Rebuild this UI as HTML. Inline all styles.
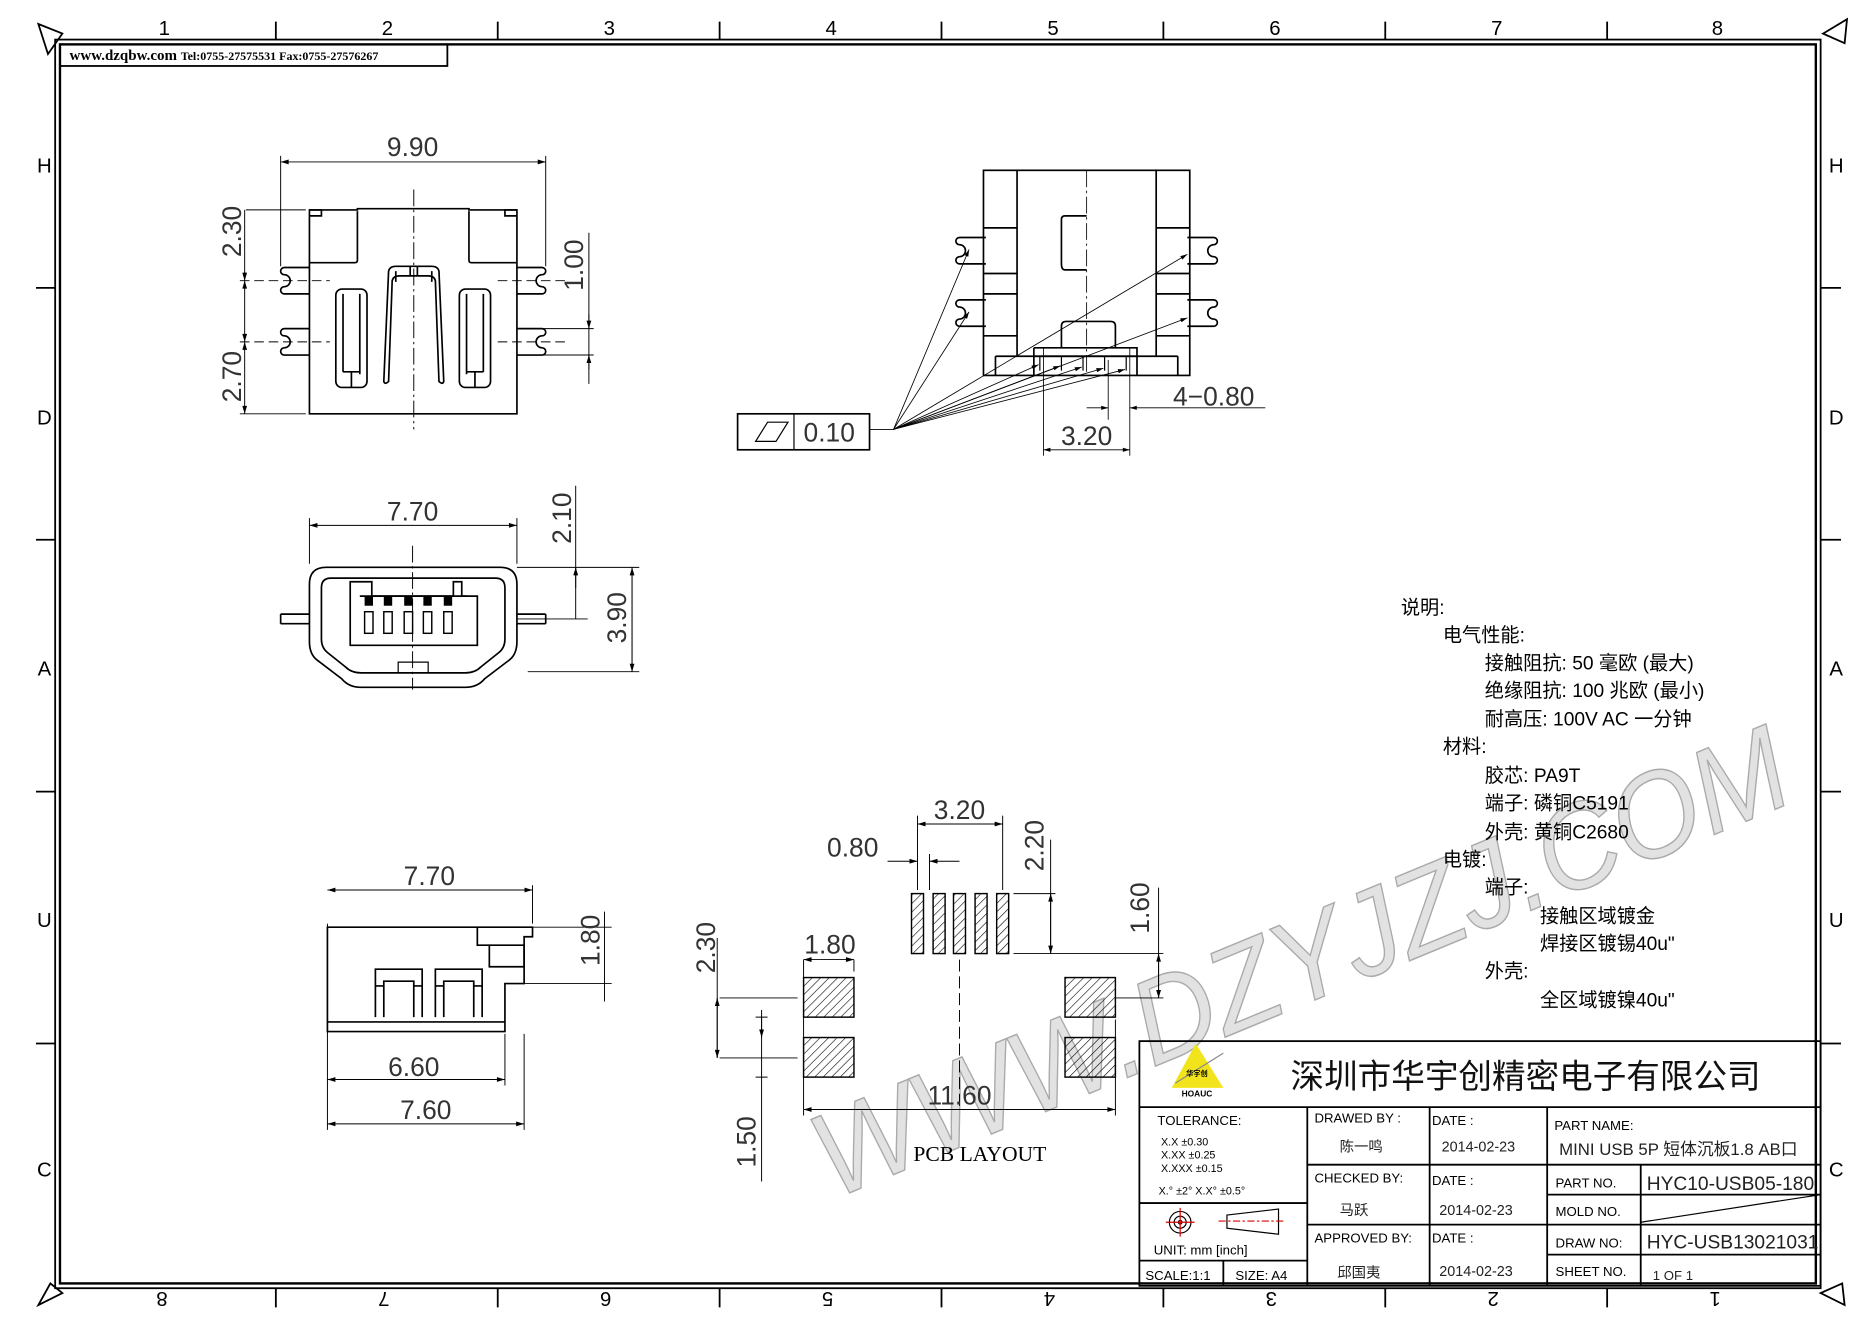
<!DOCTYPE html>
<html><head><meta charset="utf-8"><style>
html,body{margin:0;padding:0;background:#fff;}
svg{display:block;}
text{font-family:"Liberation Sans","Noto Sans CJK SC",sans-serif;}
.s{font-family:"Liberation Serif","Noto Serif CJK SC","Noto Sans CJK SC",serif;}
.d{font-family:"DejaVu Sans","Liberation Sans",sans-serif;font-weight:200;fill:#333;}
</style></head><body>
<svg width="1871" height="1323" viewBox="0 0 1560 1103" preserveAspectRatio="none" xmlns="http://www.w3.org/2000/svg">
<defs>
<pattern id="h" width="5" height="5" patternUnits="userSpaceOnUse" patternTransform="rotate(45)"><line x1="0" y1="0" x2="0" y2="5" stroke="#000" stroke-width="1"/></pattern>
<marker id="a" viewBox="0 0 10 6" refX="10" refY="3" markerWidth="9" markerHeight="5" orient="auto-start-reverse"><path d="M0,0L10,3L0,6z" fill="#000"/></marker>
</defs>
<rect width="1560" height="1103" fill="#fff"/>
<!-- watermark -->
<text x="0" y="0" transform="translate(695,1000) rotate(-22.5)" font-size="100" textLength="870" lengthAdjust="spacingAndGlyphs" fill="#d6d6d6" fill-opacity="0.7" stroke="#aaa" stroke-width="1.2" font-style="italic">WWW.DZYJZJ.COM</text>
<g fill="none" stroke="#000">
<rect x="46" y="33" width="1472" height="1041" stroke-width="1.5"/>
<rect x="50" y="37" width="1464" height="1033" stroke-width="2"/>
<rect x="50" y="37" width="323" height="18" stroke-width="1.5"/>
<g stroke-width="1.5">
<path d="M230,18V33M415,18V33M600,18V33M785,18V33M970,18V33M1155,18V33M1340,18V33"/>
<path d="M230,1074V1090M415,1074V1090M600,1074V1090M785,1074V1090M970,1074V1090M1155,1074V1090M1340,1074V1090"/>
<path d="M30,240H46M30,450H46M30,660H46M30,870H46"/>
<path d="M1518,240H1535M1518,450H1535M1518,660H1535M1518,870H1535"/>
</g>
<path d="M32,20L52,28L40,45Z" stroke-width="1.5"/>
<path d="M1520,28L1540,16L1538,36Z" stroke-width="1.5"/>
<path d="M32,1088L52,1078L42,1070Z" stroke-width="1.5"/>
<path d="M1518,1078L1536,1070L1538,1088Z" stroke-width="1.5"/>
</g>
<g font-size="17" fill="#000" text-anchor="middle">
<text x="137" y="29">1</text><text x="323" y="29">2</text><text x="508" y="29">3</text><text x="693" y="29">4</text><text x="878" y="29">5</text><text x="1063" y="29">6</text><text x="1248" y="29">7</text><text x="1432" y="29">8</text>
<text x="37" y="144">H</text><text x="37" y="354">D</text><text x="37" y="563">A</text><text x="37" y="773">U</text><text x="37" y="981">C</text>
<text x="1531" y="144">H</text><text x="1531" y="354">D</text><text x="1531" y="563">A</text><text x="1531" y="773">U</text><text x="1531" y="981">C</text>
<g transform="rotate(180 135 1083)"><text x="135" y="1089">8</text></g>
<g transform="rotate(180 320 1083)"><text x="320" y="1089">7</text></g>
<g transform="rotate(180 505 1083)"><text x="505" y="1089">6</text></g>
<g transform="rotate(180 690 1083)"><text x="690" y="1089">5</text></g>
<g transform="rotate(180 875 1083)"><text x="875" y="1089">4</text></g>
<g transform="rotate(180 1060 1083)"><text x="1060" y="1089">3</text></g>
<g transform="rotate(180 1245 1083)"><text x="1245" y="1089">2</text></g>
<g transform="rotate(180 1430 1083)"><text x="1430" y="1089">1</text></g>
</g>
<text x="58" y="50" class="s" font-size="12.5" font-weight="bold">www.dzqbw.com <tspan font-size="10">Tel:0755-27575531  Fax:0755-27576267</tspan></text>

<!-- VIEW 1 top -->
<g fill="none" stroke="#000" stroke-width="1.4">
<path d="M258,175H298V174H391V175H431V345H258Z"/>
<path d="M258,219H296Q298,219 298,217V176M431,219H393Q391,219 391,217V176"/>
<path d="M258,175h10v5h-10M431,175h-10v5h10"/>
<path d="M258,223H237a3,3 0 0 0 0,6a5,5 0 0 1 0,10a3,3 0 0 0 0,6H258M258,274H237a3,3 0 0 0 0,6a5,5 0 0 1 0,10a3,3 0 0 0 0,6H258"/>
<path d="M431,223H452a3,3 0 0 1 0,6a5,5 0 0 0 0,10a3,3 0 0 1 0,6H431M431,274H452a3,3 0 0 1 0,6a5,5 0 0 0 0,10a3,3 0 0 1 0,6H431"/>
<rect x="280" y="241" width="26" height="82" rx="5"/>
<path d="M286,310V245M300,245V312M286,310H300M293,310V323"/>
<rect x="383" y="241" width="26" height="82" rx="5"/>
<path d="M403,310V245M389,245V312M403,310H389M396,310V323"/>
<path d="M320,318L324,226Q325,222 330,222H360Q365,222 366,226L370,318Q369,321 366,318L363,234Q362,230 357,230H333Q328,230 327,234L324,318Q321,321 320,318Z"/>
<path d="M330,226V235M360,226V235M342,222V230M348,222V230"/>
</g>
<g stroke="#000" stroke-width="0.8" fill="none">
<path d="M345,158V358" stroke-dasharray="14,3,2,3"/>
<path d="M200,234H275M415,234H475M200,285H275M415,285H475" stroke-dasharray="8,4"/>
<path d="M234,222V130M455,222V130M255,175H205M200,345H255M440,274H495M440,296H495M491,194V320"/>
<path d="M234,135H455" marker-start="url(#a)" marker-end="url(#a)"/>
<path d="M204,175V234" marker-end="url(#a)"/>
<path d="M204,234V285" marker-start="url(#a)" marker-end="url(#a)"/>
<path d="M204,285V345" marker-start="url(#a)" marker-end="url(#a)"/>
<path d="M491,262V274" marker-end="url(#a)"/><path d="M491,308V296" marker-end="url(#a)"/>
</g>
<g class="d" font-size="22">
<text x="344" y="130" text-anchor="middle">9.90</text>
<text transform="translate(201,193) rotate(-90)" text-anchor="middle">2.30</text>
<text transform="translate(201,314) rotate(-90)" text-anchor="middle">2.70</text>
<text transform="translate(486,221) rotate(-90)" text-anchor="middle">1.00</text>
</g>

<!-- VIEW 2 side top-right -->
<g fill="none" stroke="#000" stroke-width="1.4">
<rect x="820" y="142" width="172" height="171"/>
<path d="M848,142V297M964,142V297M820,190H848M820,228H848M820,245H848M820,280H848M964,190H992M964,228H992M964,245H992M964,280H992"/>
<path d="M830,297H982M830,297V313M982,297V313"/>
<path d="M906,180H888Q885,180 885,183V220Q885,225 888,225H906"/>
<path d="M885,290V272Q885,268 889,268H926Q930,268 930,272V290"/>
<path d="M862,290H948V313M862,290V313M862,297H948"/>
<path d="M822,198H800a3,3 0 0 0 0,6a5,5 0 0 1 0,10a3,3 0 0 0 0,6H822M822,250H800a3,3 0 0 0 0,6a5,5 0 0 1 0,10a3,3 0 0 0 0,6H822"/>
<path d="M990,198H1012a3,3 0 0 1 0,6a5,5 0 0 0 0,10a3,3 0 0 1 0,6H990M990,250H1012a3,3 0 0 1 0,6a5,5 0 0 0 0,10a3,3 0 0 1 0,6H990"/>
<path d="M867,297v12M885,297v12M903,297v12M921,297v12M939,297v12" stroke-width="1"/>
<rect x="615" y="345" width="110" height="30"/>
<path d="M662,345V375M630,368L640,352H657L647,368Z" stroke-width="1"/>
</g>
<g class="d" font-size="22"><text x="670" y="368">0.10</text><text x="1012" y="338" text-anchor="middle">4−0.80</text><text x="906" y="371" text-anchor="middle">3.20</text></g>
<g stroke="#000" stroke-width="0.7" fill="none">
<path d="M906,142V310" stroke-dasharray="14,3,2,3"/>
<path d="M725,358H745"/>
<g marker-end="url(#a)">
<path d="M745,358L808,208"/><path d="M745,358L808,260"/><path d="M745,358L990,212"/><path d="M745,358L990,265"/>
<path d="M745,358L866,304"/><path d="M745,358L884,305"/><path d="M745,358L902,306"/><path d="M745,358L920,307"/><path d="M745,358L938,308"/>
</g>
<path d="M870,290V380M942,290V380M924,300V350"/>
<path d="M906,340H924" marker-end="url(#a)"/><path d="M1055,340H942" marker-end="url(#a)"/>
<path d="M870,375H942" marker-start="url(#a)" marker-end="url(#a)"/>
</g>

<!-- VIEW 3 front -->
<g fill="none" stroke="#000" stroke-width="1.4">
<path d="M272,473H417Q431,473 431,487V535Q431,545 425,550L404,566Q398,573 388,573H301Q291,573 285,566L264,550Q258,545 258,535V487Q258,473 272,473Z"/>
<path d="M276,482H413Q421,482 421,490V533Q421,540 416,544L401,556Q396,561 388,561H301Q293,561 288,556L273,544Q268,540 268,533V490Q268,482 276,482Z"/>
<path d="M332,561V552H357V561" stroke-width="1"/>
<path d="M234,512H258M234,520H258M234,512V520M431,512H455M431,520H455M455,512V520"/>
<path d="M292,497V538H398V497H385V485H378V497H310V485H292Z"/>
<path d="M300,497H389"/>
</g>
<g fill="#000">
<rect x="304" y="497" width="7" height="8"/><rect x="320" y="497" width="7" height="8"/><rect x="337" y="497" width="7" height="8"/><rect x="353" y="497" width="7" height="8"/><rect x="370" y="497" width="7" height="8"/>
</g>
<g fill="none" stroke="#000" stroke-width="1.2">
<rect x="304" y="510" width="7" height="18"/><rect x="320" y="510" width="7" height="18"/><rect x="337" y="510" width="7" height="18"/><rect x="353" y="510" width="7" height="18"/><rect x="370" y="510" width="7" height="18"/>
</g>
<g stroke="#000" stroke-width="0.8" fill="none">
<path d="M344,455V575" stroke-dasharray="14,3,2,3"/>
<path d="M258,470V432M431,470V432M431,473H533M431,516H490M440,560H533M480,405V516M527,473V560"/>
<path d="M258,438H431" marker-start="url(#a)" marker-end="url(#a)"/>
<path d="M480,490V473" marker-end="url(#a)"/><path d="M527,473V560" marker-start="url(#a)" marker-end="url(#a)"/>
</g>
<g class="d" font-size="22">
<text x="344" y="434" text-anchor="middle">7.70</text>
<text transform="translate(476,432) rotate(-90)" text-anchor="middle">2.10</text>
<text transform="translate(522,515) rotate(-90)" text-anchor="middle">3.90</text>
</g>

<!-- VIEW 4 side bottom -->
<g fill="none" stroke="#000" stroke-width="1.4">
<path d="M273,773H444V781H437V820H421V860H273Z"/>
<path d="M273,852H421"/>
<path d="M398,773V788H408V806H437"/>
<path d="M408,788H437V806"/>
<path d="M313,848V808H352V848M320,848V818H345V848M313,822H320M345,822H352"/>
<path d="M363,848V808H402V848M370,848V818H395V848M363,822H370M395,822H402"/>
</g>
<g stroke="#000" stroke-width="0.8" fill="none">
<path d="M273,770V942M444,770V738M421,862V905M437,862V942M444,773H510M437,820H510M504,760V835"/>
<path d="M273,742H444" marker-start="url(#a)" marker-end="url(#a)"/>
<path d="M273,900H421" marker-start="url(#a)" marker-end="url(#a)"/>
<path d="M273,937H437" marker-start="url(#a)" marker-end="url(#a)"/>
</g>
<g class="d" font-size="22">
<text x="358" y="738" text-anchor="middle">7.70</text>
<text x="345" y="897" text-anchor="middle">6.60</text>
<text x="355" y="933" text-anchor="middle">7.60</text>
<text transform="translate(500,784) rotate(-90)" text-anchor="middle">1.80</text>
</g>

<!-- PCB -->
<g stroke="#000" stroke-width="1.2" fill="url(#h)">
<rect x="760" y="745" width="10" height="50"/><rect x="778" y="745" width="10" height="50"/><rect x="795" y="745" width="10" height="50"/><rect x="813" y="745" width="10" height="50"/><rect x="831" y="745" width="10" height="50"/>
<rect x="670" y="815" width="42" height="33"/><rect x="670" y="865" width="42" height="33"/>
<rect x="888" y="815" width="42" height="33"/><rect x="888" y="865" width="42" height="33"/>
</g>
<g stroke="#000" stroke-width="0.8" fill="none">
<path d="M800,800V925" stroke-dasharray="10,4"/>
<path d="M765,742V680M836,742V680M765,742V712M775,742V712M845,745H880M845,795H970M930,832H970M600,832H665M600,882H665M630,898H640M630,848H640"/>
<path d="M670,800V930M712,800V810M930,850V930M876,700V795M966,740V832M598,782V882M635,842V985"/>
<path d="M765,687H836" marker-start="url(#a)" marker-end="url(#a)"/>
<path d="M740,718H765" marker-end="url(#a)"/><path d="M800,718H775" marker-end="url(#a)"/>
<path d="M670,800H712" marker-start="url(#a)" marker-end="url(#a)"/>
<path d="M670,925H930" marker-start="url(#a)" marker-end="url(#a)"/>
<path d="M876,745V795" marker-start="url(#a)" marker-end="url(#a)"/>
<path d="M966,795V832" marker-start="url(#a)" marker-end="url(#a)"/>
<path d="M598,832V882" marker-start="url(#a)" marker-end="url(#a)"/>
<path d="M635,848V865" marker-end="url(#a)"/>
</g>
<g class="d" font-size="22">
<text x="800" y="683" text-anchor="middle">3.20</text>
<text x="711" y="714" text-anchor="middle">0.80</text>
<text x="692" y="795" text-anchor="middle">1.80</text>
<text x="800" y="921" text-anchor="middle">11.60</text>
<text transform="translate(870,705) rotate(-90)" text-anchor="middle">2.20</text>
<text transform="translate(958,757) rotate(-90)" text-anchor="middle">1.60</text>
<text transform="translate(596,790) rotate(-90)" text-anchor="middle">2.30</text>
<text transform="translate(630,952) rotate(-90)" text-anchor="middle">1.50</text>
</g>
<text x="817" y="968" class="s" font-size="18" text-anchor="middle">PCB LAYOUT</text>

<!-- notes -->
<g class="s" font-size="16" fill="#000">
<text x="1168" y="512">说明:</text>
<text x="1203" y="535">电气性能:</text>
<text x="1238" y="558">接触阻抗: 50 毫欧 (最大)</text>
<text x="1238" y="581">绝缘阻抗: 100 兆欧 (最小)</text>
<text x="1238" y="605">耐高压:   100V AC 一分钟</text>
<text x="1203" y="628">材料:</text>
<text x="1238" y="652">胶芯: PA9T</text>
<text x="1238" y="675">端子: 磷铜C5191</text>
<text x="1238" y="699">外壳: 黄铜C2680</text>
<text x="1203" y="722">电镀:</text>
<text x="1238" y="745">端子:</text>
<text x="1284" y="769">接触区域镀金</text>
<text x="1284" y="792">焊接区镀锡40u"</text>
<text x="1238" y="815">外壳:</text>
<text x="1284" y="839">全区域镀镍40u"</text>
</g>

<!-- title block -->
<g fill="none" stroke="#000" stroke-width="1.5">
<rect x="950" y="868" width="568" height="204"/>
<path d="M950,923H1518M1090,923V1072M1192,923V1072M1290,923V1072M1090,971H1518M1090,1021H1518M1368,971V1072M1290,996H1518M1290,1046H1518M950,1003H1090M950,1051H1090M1020,1051V1072"/>
<path d="M1368,1019L1518,996" stroke-width="1"/>
</g>
<path d="M997,870L977,907H1020Z" fill="#f2e41c"/>
<path d="M980,903L1020,878" stroke="#888" stroke-width="1" fill="none"/>
<text x="998" y="897" font-size="6" text-anchor="middle" font-weight="bold">华宇创</text>
<text x="998" y="914" font-size="7" text-anchor="middle" font-weight="bold">HOAUC</text>
<text x="1272" y="907" font-size="28" text-anchor="middle" fill="#111">深圳市华宇创精密电子有限公司</text>
<g font-size="11" fill="#000">
<text x="965" y="938">TOLERANCE:</text>
<text x="968" y="955" font-size="9">X.X     ±0.30</text>
<text x="968" y="966" font-size="9">X.XX    ±0.25</text>
<text x="968" y="977" font-size="9">X.XXX  ±0.15</text>
<text x="966" y="996" font-size="9">X.° ±2°       X.X° ±0.5°</text>
<text x="962" y="1046">UNIT:  mm  [inch]</text>
<text x="955" y="1067">SCALE:1:1</text>
<text x="1030" y="1067">SIZE:  A4</text>
<text x="1096" y="936">DRAWED  BY :</text>
<text x="1096" y="986">CHECKED  BY:</text>
<text x="1096" y="1036">APPROVED  BY:</text>
<text x="1194" y="938">DATE  :</text>
<text x="1194" y="988">DATE  :</text>
<text x="1194" y="1036">DATE  :</text>
<text x="1296" y="942">PART  NAME:</text>
<text x="1297" y="990">PART  NO.</text>
<text x="1297" y="1014">MOLD  NO.</text>
<text x="1297" y="1040">DRAW  NO:</text>
<text x="1297" y="1064">SHEET  NO.</text>
</g>
<g class="s" font-size="12" fill="#222">
<text x="1117" y="960">陈一鸣</text><text x="1117" y="1013">马跃</text><text x="1115" y="1065">邱国夷</text>
<text x="1202" y="960">2014-02-23</text><text x="1200" y="1013">2014-02-23</text><text x="1200" y="1064">2014-02-23</text>
<text x="1300" y="963" font-size="14">MINI USB 5P 短体沉板1.8 AB口</text>
<text x="1373" y="992" font-size="16">HYC10-USB05-180</text>
<text x="1373" y="1041" font-size="16">HYC-USB13021031</text>
<text x="1378" y="1067" font-size="11">1 OF 1</text>
</g>
<g fill="none" stroke-width="1">
<circle cx="984" cy="1019" r="9" stroke="#000"/><circle cx="984" cy="1019" r="5" stroke="#000"/><circle cx="984" cy="1019" r="1.5" stroke="#000"/>
<path d="M972,1019H996M984,1007V1031" stroke="#d00"/>
<path d="M1023,1013L1066,1008V1029L1023,1024Z" stroke="#000"/>
<path d="M1016,1018H1072" stroke="#d00" stroke-dasharray="6,2,2,2"/>
</g>
</svg>
</body></html>
